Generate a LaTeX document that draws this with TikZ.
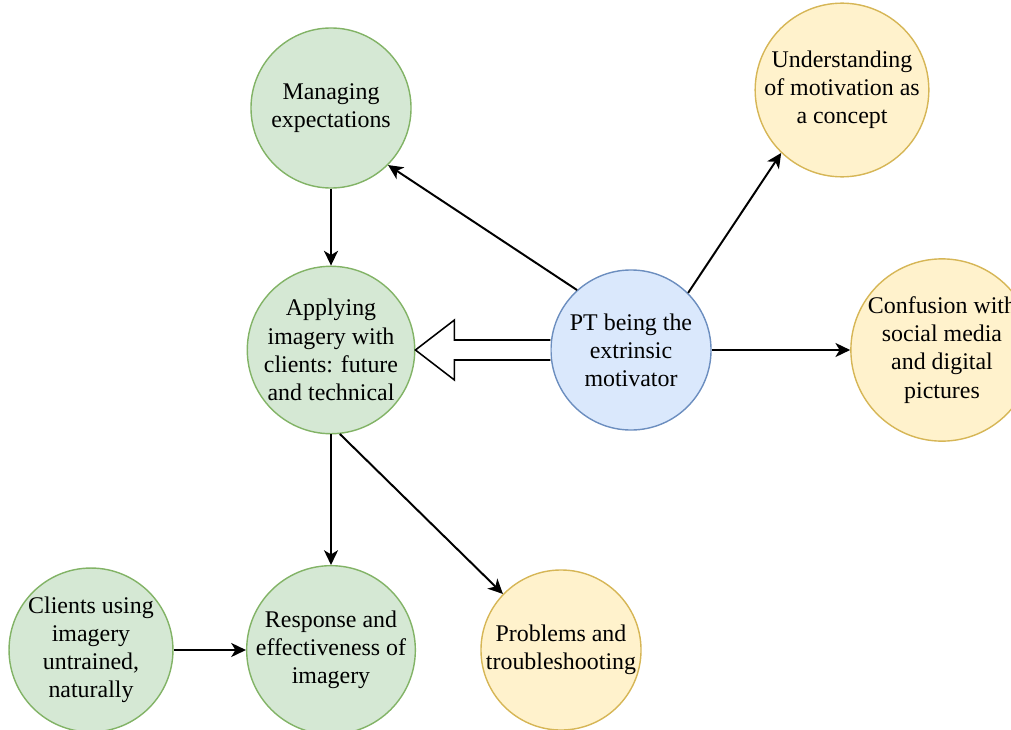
\documentclass[tikz,border=0pt]{standalone}
\usepackage{fontspec}
\setmainfont{Liberation Serif}
\usetikzlibrary{arrows.meta,calc}

\definecolor{greenfill}{HTML}{D5E8D4}
\definecolor{greenline}{HTML}{82B366}
\definecolor{yellowfill}{HTML}{FFF2CC}
\definecolor{yellowline}{HTML}{D6B656}
\definecolor{bluefill}{HTML}{DAE8FC}
\definecolor{blueline}{HTML}{6C8EBF}

\tikzset{
  topic/.style={circle, draw, line width=1pt, minimum size=4cm, inner sep=0pt,
    align=center, font=\fontsize{17}{20}\selectfont},
  greentopic/.style={topic, fill=greenfill, draw=greenline},
  yellowtopic/.style={topic, fill=yellowfill, draw=yellowline},
  bluetopic/.style={topic, fill=bluefill, draw=blueline},
  link/.style={line width=1.4pt, -{Stealth[length=10.5pt,width=10pt,inset=3pt]}},
}

\begin{document}
\begin{tikzpicture}[x=0.025cm,y=-0.025cm]
\useasboundingbox (0,0) rectangle (1011,729);

\node[greentopic] (manage) at (331,108) {Managing\\expectations};
\node[yellowtopic] (concept) at (842,90) {Understanding\\of motivation as\\a concept};
\node[greentopic] (apply) at (331,350) {Applying\\imagery with\\clients: future\\and technical};
\node[bluetopic] (pt) at (631,350) {PT being the\\extrinsic\\motivator};
\node[yellowtopic] (social) at (942,350) {Confusion with\\social media\\and digital\\pictures};
\node[greentopic] (natural) at (91,650) {Clients using\\imagery\\untrained,\\naturally};
\node[greentopic] (response) at (331,650) {Response and\\effectiveness of\\imagery};
\node[yellowtopic] (problem) at (561,650) {Problems and\\troubleshooting};

\draw[link] (pt.132) -- (manage.-45);
\draw[link] (pt.45) -- (concept.226);
\draw[link] (pt.east) -- (social.west);
\draw[link] (manage.south) -- (apply.north);
\draw[link] (apply.south) -- (response.north);
\draw[link] (apply.-84) -- (problem.136);
\draw[link] (natural.east) -- (response.west);

% hollow arrow from PT to applying
\draw[line width=1.1pt, fill=white, line join=miter]
  ($(pt.west)+(0,-10)$) -- ($(apply.east)+(39,-10)$) -- ($(apply.east)+(39,-30)$)
  -- (apply.east) -- ($(apply.east)+(39,30)$) -- ($(apply.east)+(39,10)$)
  -- ($(pt.west)+(0,10)$);
\end{tikzpicture}
\end{document}
